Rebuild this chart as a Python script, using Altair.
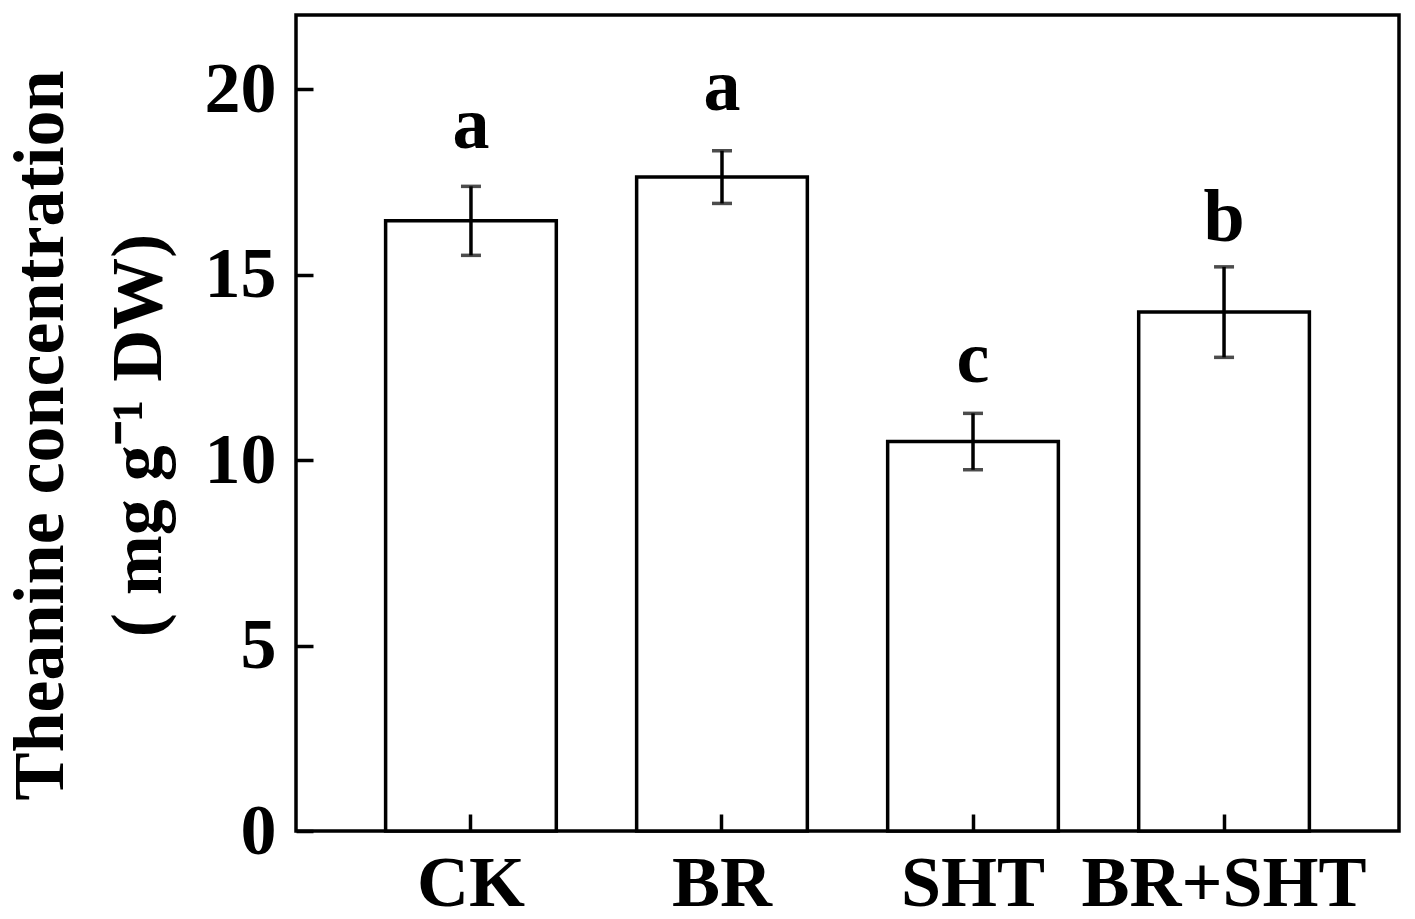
import altair as alt
import pandas as pd

categories = ["CK", "BR", "SHT", "BR+SHT"]
means = [16.45, 17.63, 10.50, 13.99]
errors = [0.93, 0.71, 0.76, 1.22]
letters = ["a", "a", "c", "b"]
letter_y = [18.41, 19.44, 12.11, 15.91]
y_ticks = [0, 5, 10, 15, 20]

df = pd.DataFrame({"cat": categories, "mean": means, "err": errors,
                   "letter": letters, "ly": letter_y})
df["lo"] = df["mean"] - df["err"]
df["hi"] = df["mean"] + df["err"]

FONT = "Liberation Serif"
W, H = 1103, 816
LW = 3.5

xscale = alt.Scale(type="band", domain=categories, paddingInner=0.32, paddingOuter=0.357)
yscale = alt.Scale(domain=[0, 22], nice=False, zero=True)

base = alt.Chart(df)

bars = base.mark_bar(fill="white", stroke="black", strokeWidth=LW).encode(
    x=alt.X("cat:N", scale=xscale, sort=categories,
            axis=alt.Axis(orient="bottom", title=None, ticks=False, domain=False, grid=False,
                          labelFont=FONT, labelFontWeight="bold", labelFontSize=72,
                          labelColor="black", labelPadding=17, labelAngle=0, labelLimit=0)),
    y=alt.Y("mean:Q", scale=yscale,
            axis=alt.Axis(orient="left", values=y_ticks, ticks=False, tickSize=0, domain=False,
                          grid=False, labelFont=FONT, labelFontWeight="bold", labelFontSize=72,
                          labelColor="black", labelPadding=20,
                          title=["Theanine concentration", "( mg g\u207b\u00b9 DW)"],
                          titleFont=FONT, titleFontSize=72, titleFontWeight="bold",
                          titleColor="black", titleAngle=270, titleAlign="center",
                          titleBaseline="alphabetic", titleX=-234, titleY=420,
                          titleLineHeight=98)),
)

rules = base.mark_rule(color="black", strokeWidth=LW).encode(
    x=alt.X("cat:N", scale=xscale, sort=categories,
            axis=alt.Axis(orient="top", offset=-H, labels=False, domain=False, grid=False,
                          ticks=True, tickSize=17, tickWidth=LW, tickColor="black", title=None,
                          zindex=1)),
    y=alt.Y("lo:Q", scale=yscale,
            axis=alt.Axis(orient="right", offset=-W, values=y_ticks, labels=False, domain=False,
                          grid=False, ticks=True, tickSize=17, tickWidth=LW, tickColor="black",
                          title=None, zindex=1)),
    y2="hi:Q",
)

caps_lo = base.mark_tick(color="black", size=20, thickness=LW, orient="horizontal").encode(
    x=alt.X("cat:N", scale=xscale, sort=categories, axis=None),
    y=alt.Y("lo:Q", scale=yscale, axis=None),
)
caps_hi = base.mark_tick(color="black", size=20, thickness=LW, orient="horizontal").encode(
    x=alt.X("cat:N", scale=xscale, sort=categories, axis=None),
    y=alt.Y("hi:Q", scale=yscale, axis=None),
)

labels = base.mark_text(font=FONT, fontWeight="bold", fontSize=74, color="black",
                        baseline="alphabetic", align="center").encode(
    x=alt.X("cat:N", scale=xscale, sort=categories, axis=None),
    y=alt.Y("ly:Q", scale=yscale, axis=None),
    text="letter:N",
)

chart = alt.layer(bars, rules, caps_lo, caps_hi, labels).resolve_scale(
    x="independent", y="independent"
).properties(
    width=W, height=H,
    autosize=alt.AutoSizeParams(type="none"),
    padding={"left": 288, "top": 7, "right": 8, "bottom": 86},
    background="white",
).configure_view(stroke="black", strokeWidth=LW)

chart.save("out.html", embed_options={"renderer": "svg", "actions": False})
